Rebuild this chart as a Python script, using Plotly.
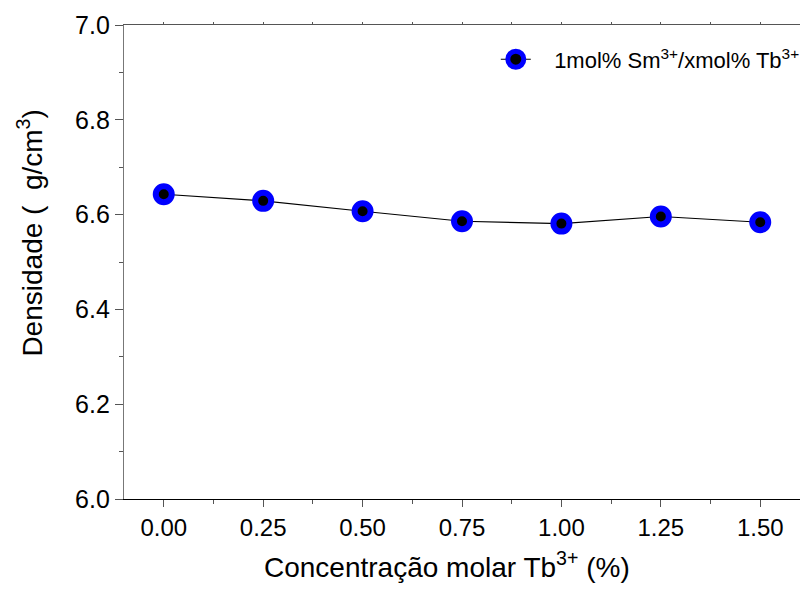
import plotly.graph_objects as go

conc_tb = [0.00, 0.25, 0.50, 0.75, 1.00, 1.25, 1.50]
densidade = [6.643, 6.629, 6.607, 6.586, 6.581, 6.596, 6.584]
x_tick_vals = [0.00, 0.25, 0.50, 0.75, 1.00, 1.25, 1.50]
x_tick_text = ["0.00", "0.25", "0.50", "0.75", "1.00", "1.25", "1.50"]
y_tick_vals = [6.0, 6.2, 6.4, 6.6, 6.8, 7.0]
y_tick_text = ["6.0", "6.2", "6.4", "6.6", "6.8", "7.0"]
series_name = "\u00a0\u00a0\u00a01mol% Sm<sup>3+</sup>/xmol% Tb<sup>3+</sup>"

FONT = "Arial, Liberation Sans, sans-serif"

fig = go.Figure()
fig.add_trace(go.Scatter(
    x=conc_tb, y=densidade, mode="lines+markers", name=series_name,
    line=dict(color="black", width=1.1),
    marker=dict(symbol="circle", size=16, color="black",
                line=dict(color="#0000ff", width=6)),
))
# invisible trace to host the top axis
fig.add_trace(go.Scatter(x=[None], y=[None], xaxis="x2", showlegend=False,
                         hoverinfo="skip"))

fig.update_layout(
    width=804, height=589,
    margin=dict(l=124, r=4, t=25, b=90, autoexpand=False),
    paper_bgcolor="white", plot_bgcolor="white",
    showlegend=True,
    legend=dict(x=0.550, y=0.9717, xanchor="left", yanchor="top",
                bgcolor="rgba(0,0,0,0)", borderwidth=0,
                font=dict(family=FONT, size=22, color="black")),
    xaxis=dict(range=[-0.1, 1.6], tickvals=x_tick_vals, ticktext=x_tick_text,
               showgrid=False, zeroline=False, showline=True,
               linecolor="black", linewidth=1.3,
               ticks="outside", ticklen=7, tickwidth=1.3, tickcolor="#555",
               tickfont=dict(family=FONT, size=24, color="black"),
               minor=dict(dtick=0.125, tick0=0, ticks="outside", ticklen=4,
                          tickcolor="#555", showgrid=False)),
    xaxis2=dict(overlaying="x", side="top", range=[-0.1, 1.6],
                showgrid=False, zeroline=False, showline=True,
                linecolor="#555", linewidth=1.2,
                ticks="outside", ticklen=2, tickcolor="#555",
                tick0=0, dtick=0.125, showticklabels=False),
    yaxis=dict(range=[6.0, 7.0], tickvals=y_tick_vals, ticktext=y_tick_text,
               showgrid=False, zeroline=False, showline=True,
               linecolor="#777", linewidth=1.3,
               ticks="outside", ticklen=8, tickwidth=1.3, tickcolor="#555",
               tickfont=dict(family=FONT, size=25, color="black"),
               minor=dict(dtick=0.1, tick0=6.0, ticks="outside", ticklen=4,
                          tickcolor="#555", showgrid=False)),
    annotations=[
        dict(text="Concentração molar Tb<sup>3+</sup> (%)",
             xref="paper", yref="paper", x=0.478, y=-0.14,
             xanchor="center", yanchor="middle", showarrow=False,
             font=dict(family=FONT, size=28, color="black")),
        dict(text="Densidade (  g/cm<sup>3</sup>)",
             xref="paper", yref="paper", x=-0.139, y=0.56,
             xanchor="center", yanchor="middle", showarrow=False,
             textangle=-90,
             font=dict(family=FONT, size=28, color="black")),
    ],
)

fig.write_html("out.html")
